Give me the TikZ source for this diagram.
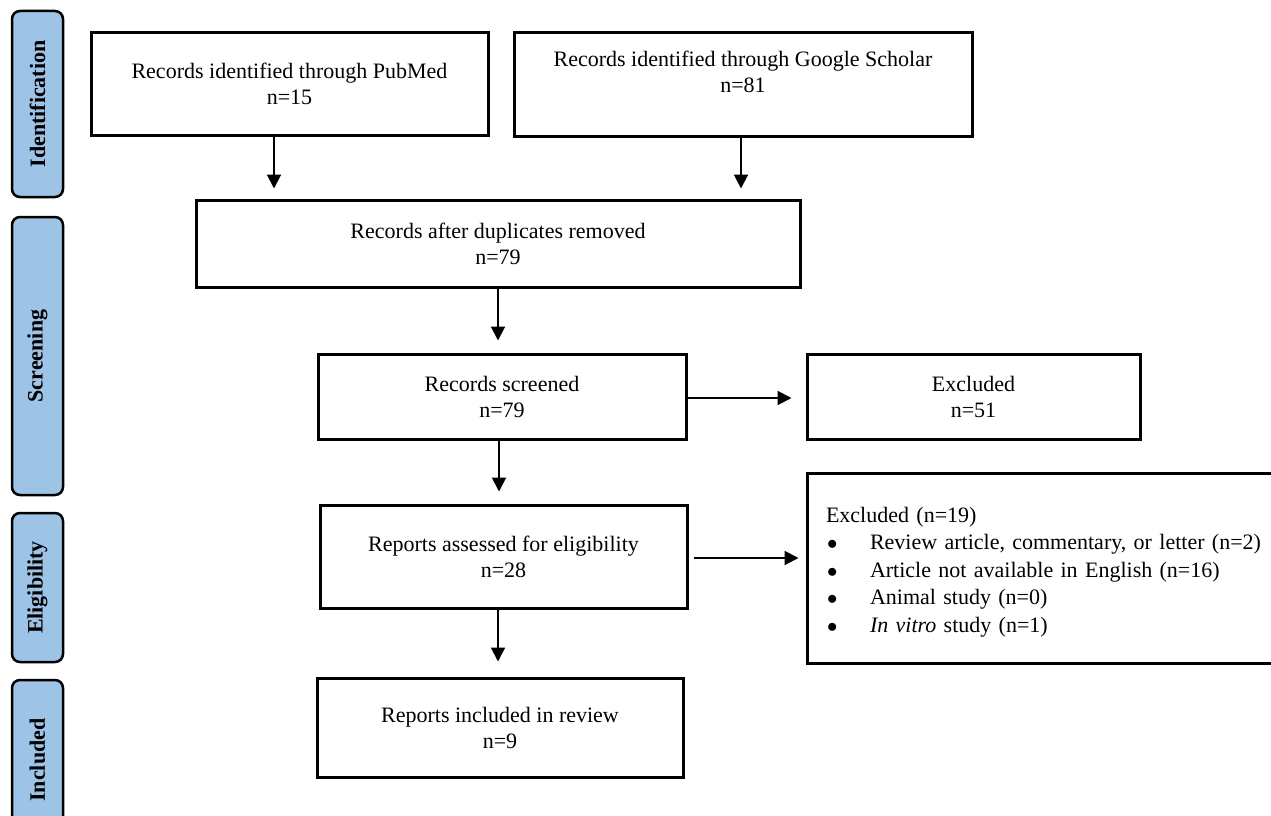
\documentclass[tikz,border=0pt]{standalone}
\usepackage{fontspec}
\setmainfont{Liberation Serif}
\usetikzlibrary{arrows.meta}
\definecolor{phaseblue}{RGB}{157,195,230}
\newcommand{\blt}{\makebox[44pt][l]{\hspace{1pt}$\bullet$}}
\begin{document}
\begin{tikzpicture}[x=1pt,y=-1pt,
  box/.style={draw=black, line width=3pt, fill=white, inner sep=0pt, align=center,
    font=\fontsize{22}{26}\selectfont},
  phase/.style={draw=black, line width=2.5pt, fill=phaseblue, rounded corners=8pt,
    rotate=90, inner sep=0pt, minimum height=51pt,
    font=\fontsize{22}{26}\selectfont\bfseries},
  arr/.style={line width=2pt, -{Triangle[width=14pt,length=14pt]}}]
\useasboundingbox (0,0) rectangle (1271,816);
\clip (0,0) rectangle (1271,816);

% phase bars
\node[phase, minimum width=186pt] (idp) at (37.5,104) {Identification};
\node[phase, minimum width=278pt] (scp) at (37.5,356) {Screening};
\node[phase, minimum width=149pt] (elp) at (37.5,587.5) {Eligibility};
\node[phase, minimum width=160pt] (inp) at (37.5,760) {Included};

% boxes
\node[box, minimum width=397pt, minimum height=102pt] (pub) at (289.5,84)
  {Records identified through PubMed\\n=15};
\node[box, minimum width=458pt, minimum height=103pt] (gs) at (743,84.5)
  {Records identified through Google Scholar\\n=81\\\mbox{}};
\node[box, minimum width=604pt, minimum height=87pt] (dup) at (498,243.5)
  {Records after duplicates removed\\n=79};
\node[box, minimum width=368pt, minimum height=85pt] (scr) at (502,396.5)
  {Records screened\\n=79};
\node[box, minimum width=333pt, minimum height=85pt] (ex1) at (973.5,396.5)
  {Excluded\\n=51};
\node[box, minimum width=367pt, minimum height=103pt] (ass) at (503.5,556.5)
  {Reports assessed for eligibility\\n=28};
\node[box, minimum width=483pt, minimum height=190pt, text width=445pt, align=left,
  font=\fontsize{22}{27.4}\selectfont] (ex2) at (1048.5,568) {};
\node[inner sep=0pt, text width=445pt, align=left, anchor=center,
  font=\fontsize{22}{27.4}\selectfont] (ex2t) at ([yshift=-4pt]ex2.center)
  {Excluded (n=19)\\
   \blt Review article, commentary, or letter (n=2)\\
   \blt Article not available in English (n=16)\\
   \blt Animal study (n=0)\\
   \blt\textit{In vitro} study (n=1)};
\node[box, minimum width=366pt, minimum height=99pt] (inc) at (500,727.5)
  {Reports included in review\\n=9};

% connectors
\coordinate (a1) at (274,0);
\coordinate (a2) at (741,0);
\coordinate (a3) at (498,0);
\coordinate (a4) at (0,398);
\coordinate (a5) at (499,0);
\coordinate (a6) at (0,558);
\draw[arr, shorten >=10pt] (a1 |- pub.south) -- (a1 |- dup.north);
\draw[arr, shorten >=10pt] (a2 |- gs.south) -- (a2 |- dup.north);
\draw[arr, shorten >=12pt] (a3 |- dup.south) -- (a3 |- scr.north);
\draw[arr, shorten >=14pt] (a4 -| scr.east) -- (a4 -| ex1.west);
\draw[arr, shorten >=12pt] (a5 |- scr.south) -- (a5 |- ass.north);
\draw[arr, shorten <=5pt, shorten >=7pt] (a6 -| ass.east) -- (a6 -| ex2.west);
\draw[arr, shorten >=15pt] (a3 |- ass.south) -- (a3 |- inc.north);
\end{tikzpicture}
\end{document}
